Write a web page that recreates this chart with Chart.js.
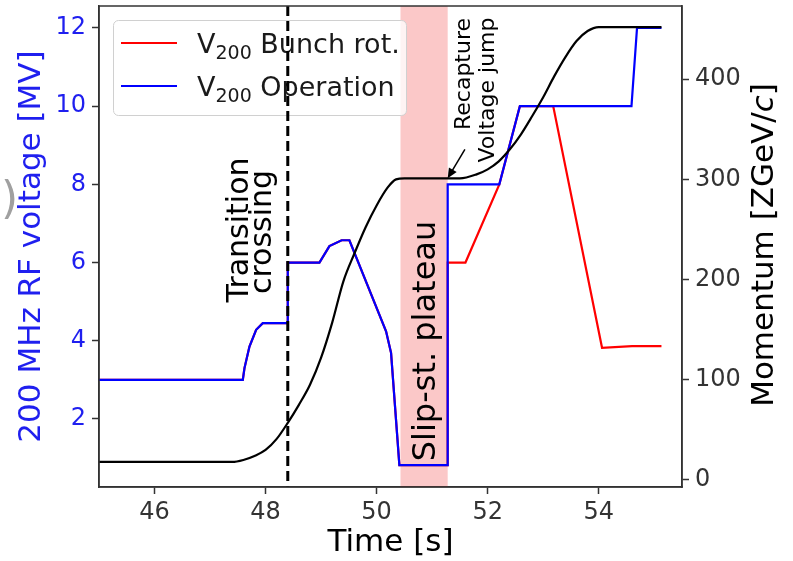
<!DOCTYPE html>
<html>
<head>
<meta charset="utf-8">
<script src="https://cdn.jsdelivr.net/npm/chart.js@4"></script>
<style>
  body { margin: 0; background: #fff; }
  #wrap { width: 793px; height: 561px; position: relative; }
</style>
</head>
<body>
<div id="wrap"><canvas id="grafico"></canvas></div>
<script>
// valores
const timeOperation = [45, 47.59, 47.62, 47.71, 47.83, 47.95, 48.4, 48.4, 48.97, 49.15, 49.37, 49.51, 50.17, 50.26, 50.41, 51.28, 51.28, 52.21, 52.58, 54.59, 54.69, 55.13];
const voltOperation = [3.0, 3.0, 3.3, 3.85, 4.28, 4.45, 4.45, 6.0, 6.0, 6.42, 6.57, 6.57, 4.24, 3.69, 0.82, 0.82, 8.0, 8.0, 10.0, 10.0, 12.0, 12.0];

const timeBunchRot = [45, 47.59, 47.62, 47.71, 47.83, 47.95, 48.4, 48.4, 48.97, 49.15, 49.37, 49.51, 50.17, 50.26, 50.41, 51.28, 51.28, 51.6, 52.21, 52.58, 53.18, 54.06, 54.6, 55.13];
const voltBunchRot = [3.0, 3.0, 3.3, 3.85, 4.28, 4.45, 4.45, 6.0, 6.0, 6.42, 6.57, 6.57, 4.24, 3.69, 0.82, 0.82, 6.0, 6.0, 8.0, 10.0, 10.0, 3.82, 3.86, 3.86];

const timeMomentum = [45, 47.4, 47.6, 47.8, 48.0, 48.2, 48.4, 48.6, 48.8, 49.0, 49.2, 49.4, 49.6, 49.8, 50.0, 50.2, 50.35, 50.5, 51.5, 51.8, 52.0, 52.2, 52.4, 52.6, 52.8, 53.0, 53.2, 53.4, 53.6, 53.8, 54.0, 55.13];
const momentum = [18, 18, 20, 24, 30, 41, 57, 75, 95, 122, 157, 198, 226, 252, 274, 292, 300, 301, 301, 305, 310, 318, 330, 345, 363, 382, 403, 422, 438, 448, 452, 452];

const timeTicks = [46, 48, 50, 52, 54];
const voltTicks = [2, 4, 6, 8, 10, 12];
const momentumTicks = [0, 100, 200, 300, 400];

const seriesNames = ["Bunch rot.", "Operation"];
const seriesColors = ["#ff0000", "#0000ff"];

const transitionTime = 48.4;
const plateauStart = 50.43;
const plateauEnd = 51.28;

const FONT = "DejaVu Sans";
Chart.defaults.font.family = FONT;

function toPoints(xs, ys) {
    return xs.map((t, i) => ({ x: t, y: ys[i] }));
}

function fixTicks(values) {
    return function (scale) {
        scale.ticks = values.map(v => ({ value: v }));
    };
}

function rotText(ctx, text, x, y, font, align) {
    ctx.save();
    ctx.translate(x, y);
    ctx.rotate(-Math.PI / 2);
    ctx.font = font;
    ctx.textAlign = align || "center";
    ctx.textBaseline = "alphabetic";
    ctx.fillText(text, 0, 0);
    ctx.restore();
}

const decor = {
    id: "decor",
    beforeDatasetsDraw(chart) {
        const { ctx, chartArea: a, scales: { x } } = chart;
        const x0 = x.getPixelForValue(plateauStart);
        const x1 = x.getPixelForValue(plateauEnd);
        ctx.save();
        ctx.fillStyle = "rgba(240,50,50,0.27)";
        ctx.fillRect(x0, a.top, x1 - x0, a.bottom - a.top);
        ctx.restore();
    },
    afterDatasetsDraw(chart) {
        const { ctx, chartArea: a, scales: { x, yP } } = chart;

        // leyenda
        ctx.save();
        ctx.globalAlpha = 0.8;
        ctx.fillStyle = "#fff";
        ctx.beginPath();
        ctx.roundRect(113.5, 20.5, 293, 95, 5);
        ctx.fill();
        ctx.globalAlpha = 1;
        ctx.strokeStyle = "#d0d0d0";
        ctx.lineWidth = 1;
        ctx.stroke();
        seriesNames.forEach((name, i) => {
            const yl = 43 + i * 43;
            ctx.strokeStyle = seriesColors[i];
            ctx.lineWidth = 2;
            ctx.beginPath();
            ctx.moveTo(121, yl);
            ctx.lineTo(177, yl);
            ctx.stroke();
            ctx.fillStyle = "#1a1a1a";
            ctx.textBaseline = "alphabetic";
            ctx.textAlign = "left";
            ctx.font = "27px '" + FONT + "'";
            let px = 197;
            ctx.fillText("V", px, yl + 10);
            px += ctx.measureText("V").width;
            ctx.font = "19px '" + FONT + "'";
            ctx.fillText("200", px, yl + 16);
            px += ctx.measureText("200").width;
            ctx.font = "27px '" + FONT + "'";
            ctx.fillText(" " + name, px, yl + 10);
        });
        ctx.restore();

        // linea de transicion
        const xt = x.getPixelForValue(transitionTime);
        ctx.save();
        ctx.strokeStyle = "#000";
        ctx.lineWidth = 3;
        ctx.setLineDash([10, 5]);
        ctx.beginPath();
        ctx.moveTo(xt, a.top);
        ctx.lineTo(xt, a.bottom);
        ctx.stroke();
        ctx.restore();

        // textos
        ctx.save();
        ctx.fillStyle = "#000";
        rotText(ctx, "Transition", 248, 230, "30px '" + FONT + "'");
        rotText(ctx, "crossing", 271, 232, "30px '" + FONT + "'");
        rotText(ctx, "Slip-st. plateau", 435, 341, "32px '" + FONT + "'");
        rotText(ctx, "Recapture", 470, 74, "22px '" + FONT + "'");
        rotText(ctx, "Voltage jump", 494, 90, "22px '" + FONT + "'");

        // flecha
        const tx = x.getPixelForValue(plateauEnd), ty = yP.getPixelForValue(301);
        const sx = x.getPixelForValue(51.59), sy = yP.getPixelForValue(330);
        const ang = Math.atan2(ty - sy, tx - sx);
        ctx.strokeStyle = "#000";
        ctx.lineWidth = 1.5;
        ctx.beginPath();
        ctx.moveTo(sx, sy);
        ctx.lineTo(tx - 6 * Math.cos(ang), ty - 6 * Math.sin(ang));
        ctx.stroke();
        ctx.beginPath();
        ctx.moveTo(tx, ty);
        ctx.lineTo(tx - 10 * Math.cos(ang) + 4.5 * Math.sin(ang), ty - 10 * Math.sin(ang) - 4.5 * Math.cos(ang));
        ctx.lineTo(tx - 10 * Math.cos(ang) - 4.5 * Math.sin(ang), ty - 10 * Math.sin(ang) + 4.5 * Math.cos(ang));
        ctx.closePath();
        ctx.fill();

        // marco
        ctx.strokeStyle = "#333";
        ctx.lineWidth = 1.5;
        ctx.strokeRect(a.left, a.top, a.right - a.left, a.bottom - a.top);
        ctx.restore();
    },
    afterDraw(chart) {
        const { ctx } = chart;
        ctx.save();
        // titulo del eje derecho
        ctx.translate(773, 245);
        ctx.rotate(-Math.PI / 2);
        ctx.fillStyle = "#000";
        ctx.textBaseline = "alphabetic";
        ctx.textAlign = "left";
        const normal = "31px '" + FONT + "'";
        const italic = "italic 31px '" + FONT + "'";
        const parts = [["Momentum [ZGeV/", normal], ["c", italic], ["]", normal]];
        let total = 0;
        parts.forEach(p => { ctx.font = p[1]; total += ctx.measureText(p[0]).width; });
        let px = -total / 2;
        parts.forEach(p => {
            ctx.font = p[1];
            ctx.fillText(p[0], px, 0);
            px += ctx.measureText(p[0]).width;
        });
        ctx.restore();

        // resto de la figura recortada
        ctx.save();
        ctx.fillStyle = "#a0a0a0";
        ctx.font = "44px '" + FONT + "'";
        ctx.textBaseline = "alphabetic";
        ctx.fillText(")", 1, 213);
        ctx.restore();
    }
};

const tickGrid = { drawOnChartArea: false, drawTicks: true, tickLength: 7, tickWidth: 1.5, tickColor: "#333" };
const axisBorder = { display: true, color: "#333", width: 1.5 };

function fitY(w) {
    return s => { s.width = w; s.paddingTop = 0; s.paddingBottom = 0; };
}

const chart = new Chart(document.getElementById("grafico").getContext("2d"), {
    type: "line",
    data: {
        datasets: [
            {
                label: "Momentum",
                data: toPoints(timeMomentum, momentum),
                yAxisID: "yP",
                borderColor: "#000",
                borderWidth: 2.2,
                pointRadius: 0,
                cubicInterpolationMode: "monotone",
                fill: false
            },
            {
                label: "V200 " + seriesNames[1],
                data: toPoints(timeOperation, voltOperation),
                yAxisID: "yV",
                borderColor: seriesColors[1],
                borderWidth: 2.2,
                pointRadius: 0,
                tension: 0,
                fill: false
            },
            {
                label: "V200 " + seriesNames[0],
                data: toPoints(timeBunchRot, voltBunchRot),
                yAxisID: "yV",
                borderColor: seriesColors[0],
                borderWidth: 2.2,
                pointRadius: 0,
                tension: 0,
                fill: false
            }
        ]
    },
    options: {
        responsive: true,
        maintainAspectRatio: false,
        animation: false,
        layout: { padding: { top: 6, left: 0, right: 0, bottom: 0 } },
        plugins: { legend: { display: false }, tooltip: { enabled: false } },
        scales: {
            x: {
                type: "linear",
                min: 45,
                max: 55.5,
                afterBuildTicks: fixTicks(timeTicks),
                afterFit: s => { s.height = 74; s.paddingLeft = 0; s.paddingRight = 0; },
                grid: tickGrid,
                border: axisBorder,
                ticks: { font: { size: 24 }, color: "#333", padding: 4, maxRotation: 0 },
                title: { display: true, text: "Time [s]", color: "#000", font: { size: 31, lineHeight: 1.0 }, padding: { top: 0, bottom: 3 } }
            },
            yV: {
                type: "linear",
                position: "left",
                min: 0.26,
                max: 12.56,
                afterBuildTicks: fixTicks(voltTicks),
                afterFit: fitY(99),
                grid: tickGrid,
                border: axisBorder,
                ticks: { font: { size: 24 }, color: "#1f1fef", padding: 6 },
                title: { display: true, text: "200 MHz RF voltage [MV]", color: "#1f1fef", font: { size: 31, lineHeight: 1.2 }, padding: { top: 13, bottom: 0 } }
            },
            yP: {
                type: "linear",
                position: "right",
                min: -7,
                max: 473,
                afterBuildTicks: fixTicks(momentumTicks),
                afterFit: fitY(111),
                grid: tickGrid,
                border: axisBorder,
                ticks: { font: { size: 24 }, color: "#333", padding: 6 }
            }
        }
    },
    plugins: [decor]
});
</script>
</body>
</html>
